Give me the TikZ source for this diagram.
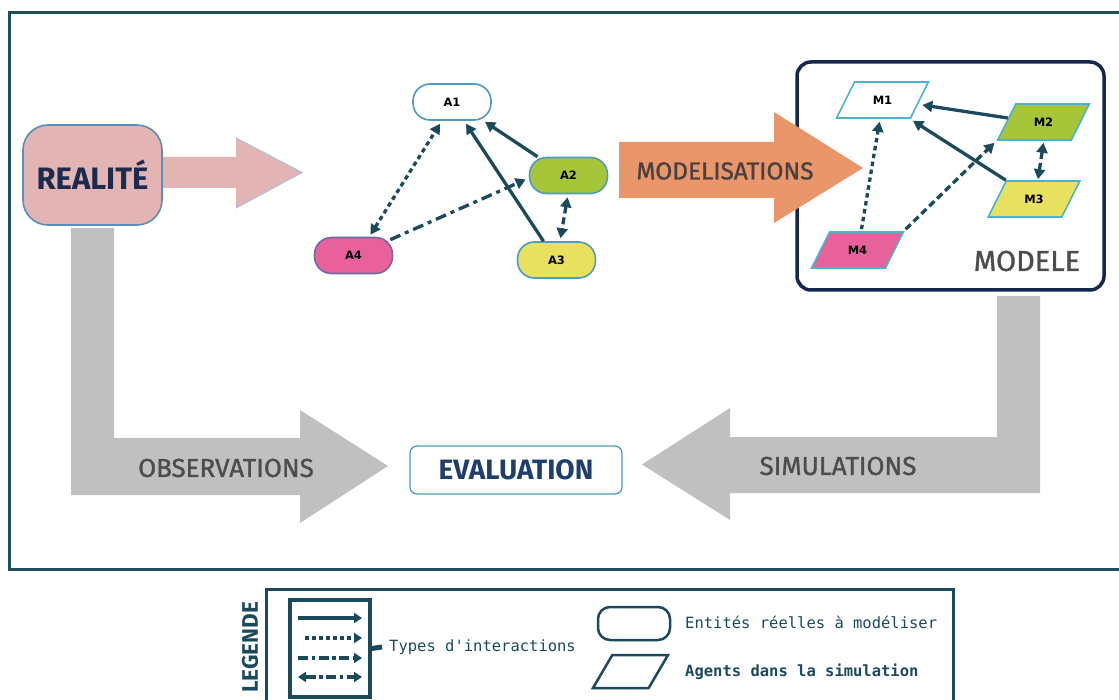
\documentclass[tikz,border=0pt]{standalone}
\usepackage{fontspec}
\setmainfont{Fira Sans}
\newfontfamily\medfont[FakeBold=1.2]{Fira Sans}
\newfontfamily\monofont{DejaVu Sans Mono}
\newfontfamily\lblfont{DejaVu Sans}
\usetikzlibrary{arrows.meta,shapes.geometric,calc}
\definecolor{frame}{HTML}{1E4C58}
\definecolor{lnk}{HTML}{1B4A5C}
\definecolor{realf}{HTML}{E2B4B3}
\definecolor{realb}{HTML}{5B8DB8}
\definecolor{navy}{HTML}{1C2A4E}
\definecolor{pillb}{HTML}{4E9AC4}
\definecolor{agreen}{HTML}{A7C538}
\definecolor{ayellow}{HTML}{E8E160}
\definecolor{apink}{HTML}{E9619B}
\definecolor{apinkb}{HTML}{6E6AA8}
\definecolor{mcyan}{HTML}{4AB4CC}
\definecolor{orangear}{HTML}{E8966A}
\definecolor{grayar}{HTML}{C0C0C0}
\definecolor{txtgray}{HTML}{4D4D4D}
\definecolor{orangetxt}{HTML}{4B4040}
\definecolor{boxnavy}{HTML}{14284E}
\definecolor{evtext}{HTML}{1E3F6E}
\definecolor{headedge}{HTML}{B3C2D8}
\begin{document}
\begin{tikzpicture}[x=1pt,y=-1pt,
  tip/.style={-{Triangle[length=10pt,width=11pt]}},
  bothtips/.style={{Triangle[length=10pt,width=11pt]}-{Triangle[length=10pt,width=11pt]}},
  link/.style={draw=lnk, line width=3.3pt},
  dotline/.style={dash pattern=on 4.5pt off 3.5pt},
  dashdotline/.style={dash pattern=on 11pt off 5pt on 4pt off 5pt},
  dashline/.style={dash pattern=on 7pt off 4pt},
  pill/.style={rectangle, rounded corners=17pt, minimum width=78pt, minimum height=36pt, line width=1.6pt, font=\lblfont\bfseries\fontsize{11.5}{13}\selectfont},
  agent/.style={trapezium, trapezium left angle=61, trapezium right angle=119, trapezium stretches=true, minimum width=92pt, minimum height=36pt, line width=1.6pt, draw=mcyan, font=\lblfont\bfseries\fontsize{11.5}{13}\selectfont},
  biglabel/.style={font=\medfont\fontsize{26}{30}\selectfont, text=txtgray},
  legtext/.style={font=\monofont\fontsize{15.5}{18}\selectfont, text=lnk, anchor=west, inner sep=0pt},
  legarrow/.style={draw=lnk, line width=3.2pt},
  legtip/.style={-{Triangle[length=8pt,width=10pt]}},
]
\useasboundingbox (0,0) rectangle (1119,700);

% outer frame
\draw[frame, line width=2.5pt] (9.5,12.5) rectangle (1135,569.5);

% MODELE box
\node[draw=boxnavy, line width=3.5pt, rounded corners=14pt, minimum width=307pt, minimum height=228pt] (modele) at (950.5,176) {};
\node[font=\medfont\fontsize{29}{34}\selectfont, text=txtgray] (modlabel) at (1027,261) {MODELE};

% REALITE
\node[draw=realb, fill=realf, line width=1.6pt, rounded corners=25pt, minimum width=139pt, minimum height=100pt, font=\bfseries\fontsize{31}{36}\selectfont, text=navy] (real) at (92.5,175) {REALITÉ};

% pink arrow
\fill[realf] (163,157) -- (236,157) -- (236,138) -- (302,172.5) -- (236,208) -- (236,188) -- (163,188) -- cycle;
\draw[headedge, line width=1.2pt] (236,138) -- (302,172.5) -- (236,208);

% orange arrow
\fill[orangear] (619,142) -- (774,142) -- (774,112) -- (863,168) -- (774,223) -- (774,198) -- (619,198) -- cycle;
\node[font=\medfont\fontsize{24.5}{28}\selectfont, text=orangetxt] (modlbl) at (725,171) {MODELISATIONS};

% gray L arrows
\fill[grayar] (71,228) -- (114,228) -- (114,438) -- (300,438) -- (300,410) -- (388,466) -- (300,523) -- (300,495) -- (71,495) -- cycle;
\node[biglabel] (obs) at (226,468) {OBSERVATIONS};
\fill[grayar] (997,296) -- (1040,296) -- (1040,493) -- (730,493) -- (730,520) -- (642,464.5) -- (730,408) -- (730,437) -- (997,437) -- cycle;
\node[biglabel] (sim) at (838,466) {SIMULATIONS};

% EVALUATION
\node[draw=pillb, line width=1.3pt, rounded corners=7pt, minimum width=212pt, minimum height=48pt, font=\bfseries\fontsize{28}{32}\selectfont, text=evtext] (eval) at (516,470) {EVALUATION};

% real entities
\node[pill, draw=pillb, fill=white] (A1) at (452,102) {A1};
\node[pill, draw=pillb, fill=agreen] (A2) at (568.5,175.5) {A2};
\node[pill, draw=pillb, fill=ayellow] (A3) at (556.5,260) {A3};
\node[pill, draw=apinkb, fill=apink] (A4) at (353.5,255.5) {A4};

\draw[link, dotline, bothtips] ([xshift=17pt,yshift=2pt]A4.north) -- ([xshift=-12pt,yshift=-3pt]A1.south);
\draw[link, dashdotline, tip] ([shift={(-3pt,-3pt)}]A4.north east) -- ([shift={(-3pt,-4pt)}]A2.west);
\draw[link, tip] ([xshift=-13pt]A3.north) -- ([xshift=14pt,yshift=-3pt]A1.south);
\draw[link, tip] ([xshift=-31pt]A2.north) -- ([xshift=33pt,yshift=-1pt]A1.south);
\draw[link, dashline, bothtips] ([xshift=-1pt,yshift=-3pt]A2.south) -- ([xshift=4pt,yshift=3pt]A3.north);

% agents
\node[agent, fill=white] (M1) at (882.5,100) {M1};
\node[agent, fill=agreen] (M2) at (1043.5,122) {M2};
\node[agent, fill=ayellow] (M3) at (1034,199) {M3};
\node[agent, fill=apink] (M4) at (857.5,250) {M4};

\draw[link, dotline, tip] ([xshift=4pt,yshift=2pt]M4.north) -- ([xshift=-3pt,yshift=-3pt]M1.south);
\draw[link, dashline, tip] ([shift={(1pt,2pt)}]M4.top right corner) -- ([shift={(-2pt,-2pt)}]M2.bottom left corner);
\draw[link, tip] ([shift={(2pt,4pt)}]M2.west) -- ([shift={(2pt,-5pt)}]M1.east);
\draw[link, tip] (M3.top left corner) -- ([shift={(2pt,-2pt)}]M1.bottom right corner);
\draw[link, dashline, bothtips] ([yshift=-2pt]M2.south) -- ([xshift=4pt,yshift=1pt]M3.north);

% legend
\draw[lnk, line width=3pt] (266,589) rectangle (953,720);
\node[rotate=90, font=\bfseries\fontsize{22.5}{26}\selectfont, text=lnk] (legtitle) at (250,647.5) {LEGENDE};
\node[draw=lnk, line width=3.2pt, minimum width=80pt, minimum height=97pt, inner sep=0pt] (types) at (330,648.5) {};
\coordinate (s1a) at (298,618); \coordinate (s1b) at (362,618);
\coordinate (s2a) at (305,638); \coordinate (s2b) at (362,638);
\coordinate (s3a) at (298,658); \coordinate (s3b) at (362,658);
\coordinate (s4a) at (298,677); \coordinate (s4b) at (362,677);
\draw[legarrow, legtip] (s1a) -- (s1b);
\draw[legarrow, dash pattern=on 4pt off 3pt, legtip] (s2a) -- (s2b);
\draw[legarrow, dash pattern=on 10pt off 3.5pt on 3.5pt off 3.5pt, legtip] (s3a) -- (s3b);
\draw[legarrow, dash pattern=on 10pt off 3.5pt on 3.5pt off 3.5pt, {Triangle[length=8pt,width=10pt]}-{Triangle[length=8pt,width=10pt]}] (s4a) -- (s4b);
\node[legtext] (typestxt) at (389,647) {Types d'interactions};
\coordinate (stubend) at (382,647);
\draw[lnk, line width=5pt] (types.east) -- (stubend);
\node[draw=lnk, line width=2.5pt, rounded corners=12pt, minimum width=72pt, minimum height=33pt] (legpill) at (634,623.5) {};
\node[legtext] (enttxt) at (685,622) {Entités réelles à modéliser};
\node[trapezium, trapezium left angle=62, trapezium right angle=118, trapezium stretches=true, minimum width=75pt, minimum height=33pt, draw=lnk, line width=2.5pt] (legpar) at (630.5,671.5) {};
\node[legtext, font=\monofont\bfseries\fontsize{15.5}{18}\selectfont] (agtxt) at (685,672) {Agents dans la simulation};
\end{tikzpicture}
\end{document}
